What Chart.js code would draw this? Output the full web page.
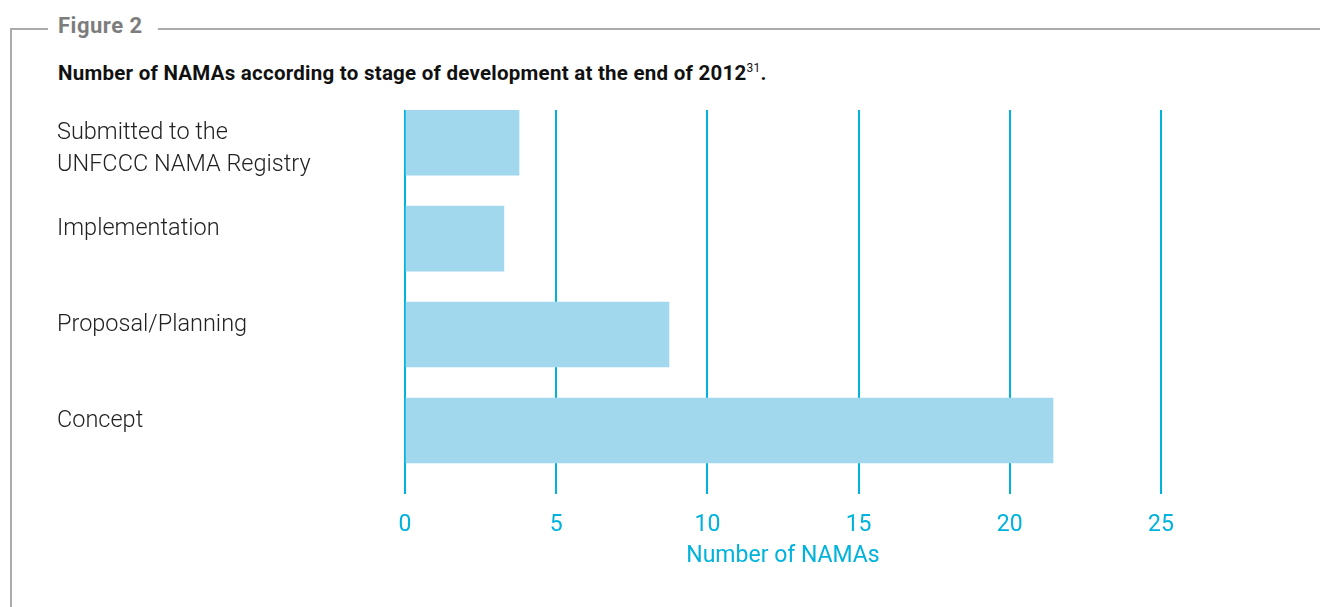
<!DOCTYPE html>
<html>
<head>
<meta charset="utf-8">
<script src="https://cdn.jsdelivr.net/npm/chart.js@4/dist/chart.umd.min.js"></script>
<style>
  html, body { margin: 0; padding: 0; background: #fff; }
  body { width: 1320px; height: 607px; position: relative; overflow: hidden; font-family: Roboto, "DejaVu Sans", sans-serif; }
  #frame { position: absolute; left: 10px; top: 28px; width: 1320px; height: 600px; border-left: 2px solid #ababab; border-top: 2px solid #ababab; }
  #figlabel { position: absolute; left: 48px; top: 15px; line-height: 22px; padding: 0 15px 0 10px; background: #fff; color: #7d7d7d; font-size: 22px; font-weight: bold; letter-spacing: 0.5px; }
  #title { position: absolute; left: 58px; top: 63px; line-height: 20px; color: #111; font-size: 20.5px; font-weight: bold; letter-spacing: 0.25px; white-space: nowrap; }
  #title sup { font-size: 12px; font-weight: normal; vertical-align: 8px; line-height: 0; }
  #wrap { position: absolute; left: 0; top: 0; width: 1320px; height: 607px; }
</style>
</head>
<body>
<div id="frame"></div>
<div id="figlabel">Figure 2</div>
<div id="title">Number of NAMAs according to stage of development at the end of 2012<sup>31</sup>.</div>
<div id="wrap"><canvas id="chart-1"></canvas></div>
<script>
// stages (top to bottom) and number of NAMAs
var stage_labels = [
    ['', 'Submitted to the', 'UNFCCC NAMA Registry'],
    'Implementation',
    'Proposal/Planning',
    'Concept'
];
var nama_counts = [3.77, 3.27, 8.73, 21.43];
var x_ticks = [0, 5, 10, 15, 20, 25];
var x_title = 'Number of NAMAs';

var cyan = '#00b3dc';

var bar_data = new Array();
for (let i = 0; i < nama_counts.length; i++) {
    bar_data.push({x: nama_counts[i], y: i});
}

const ctx = document.getElementById("chart-1").getContext("2d");
const myChart = new Chart(ctx, {
    type: "bar",
    data: {
        datasets: [{
            label: "NAMAs",
            data: bar_data,
            backgroundColor: '#a2d8ee',
            borderWidth: 0,
            barThickness: 65,
        }],
    },
    options: {
        indexAxis: 'y',
        responsive: true,
        maintainAspectRatio: false,
        animation: false,
        layout: {
            padding: {left: 57, right: 159, top: 110, bottom: 37},
        },
        plugins: {
            legend: {display: false},
            tooltip: {enabled: false},
        },
        scales: {
            x: {
                type: 'linear',
                min: 0,
                max: 25,
                afterBuildTicks: (scale) => {
                    scale.ticks = x_ticks.map(v => ({value: v}));
                },
                border: {display: false},
                grid: {
                    color: cyan,
                    lineWidth: 2,
                    drawTicks: false,
                },
                ticks: {
                    color: cyan,
                    padding: 18,
                    font: {family: 'Roboto', size: 23},
                },
                title: {
                    display: true,
                    text: x_title,
                    color: cyan,
                    padding: {top: -15, bottom: 0},
                    font: {family: 'Roboto', size: 23},
                },
            },
            y: {
                type: 'linear',
                reverse: true,
                offset: false,
                min: -0.34,
                max: 3.66,
                afterBuildTicks: (scale) => {
                    scale.ticks = stage_labels.map((_, i) => ({value: i}));
                },
                afterFit: (scale) => {
                    scale.width = 348;
                },
                border: {display: false},
                grid: {display: false, offset: false},
                ticks: {
                    color: '#222',
                    autoSkip: false,
                    crossAlign: 'far',
                    labelOffset: -9,
                    font: {family: 'Roboto', size: 23.5, weight: '300', lineHeight: 1.34},
                    callback: (value) => stage_labels[value],
                },
            },
        },
    },
});
</script>
</body>
</html>
